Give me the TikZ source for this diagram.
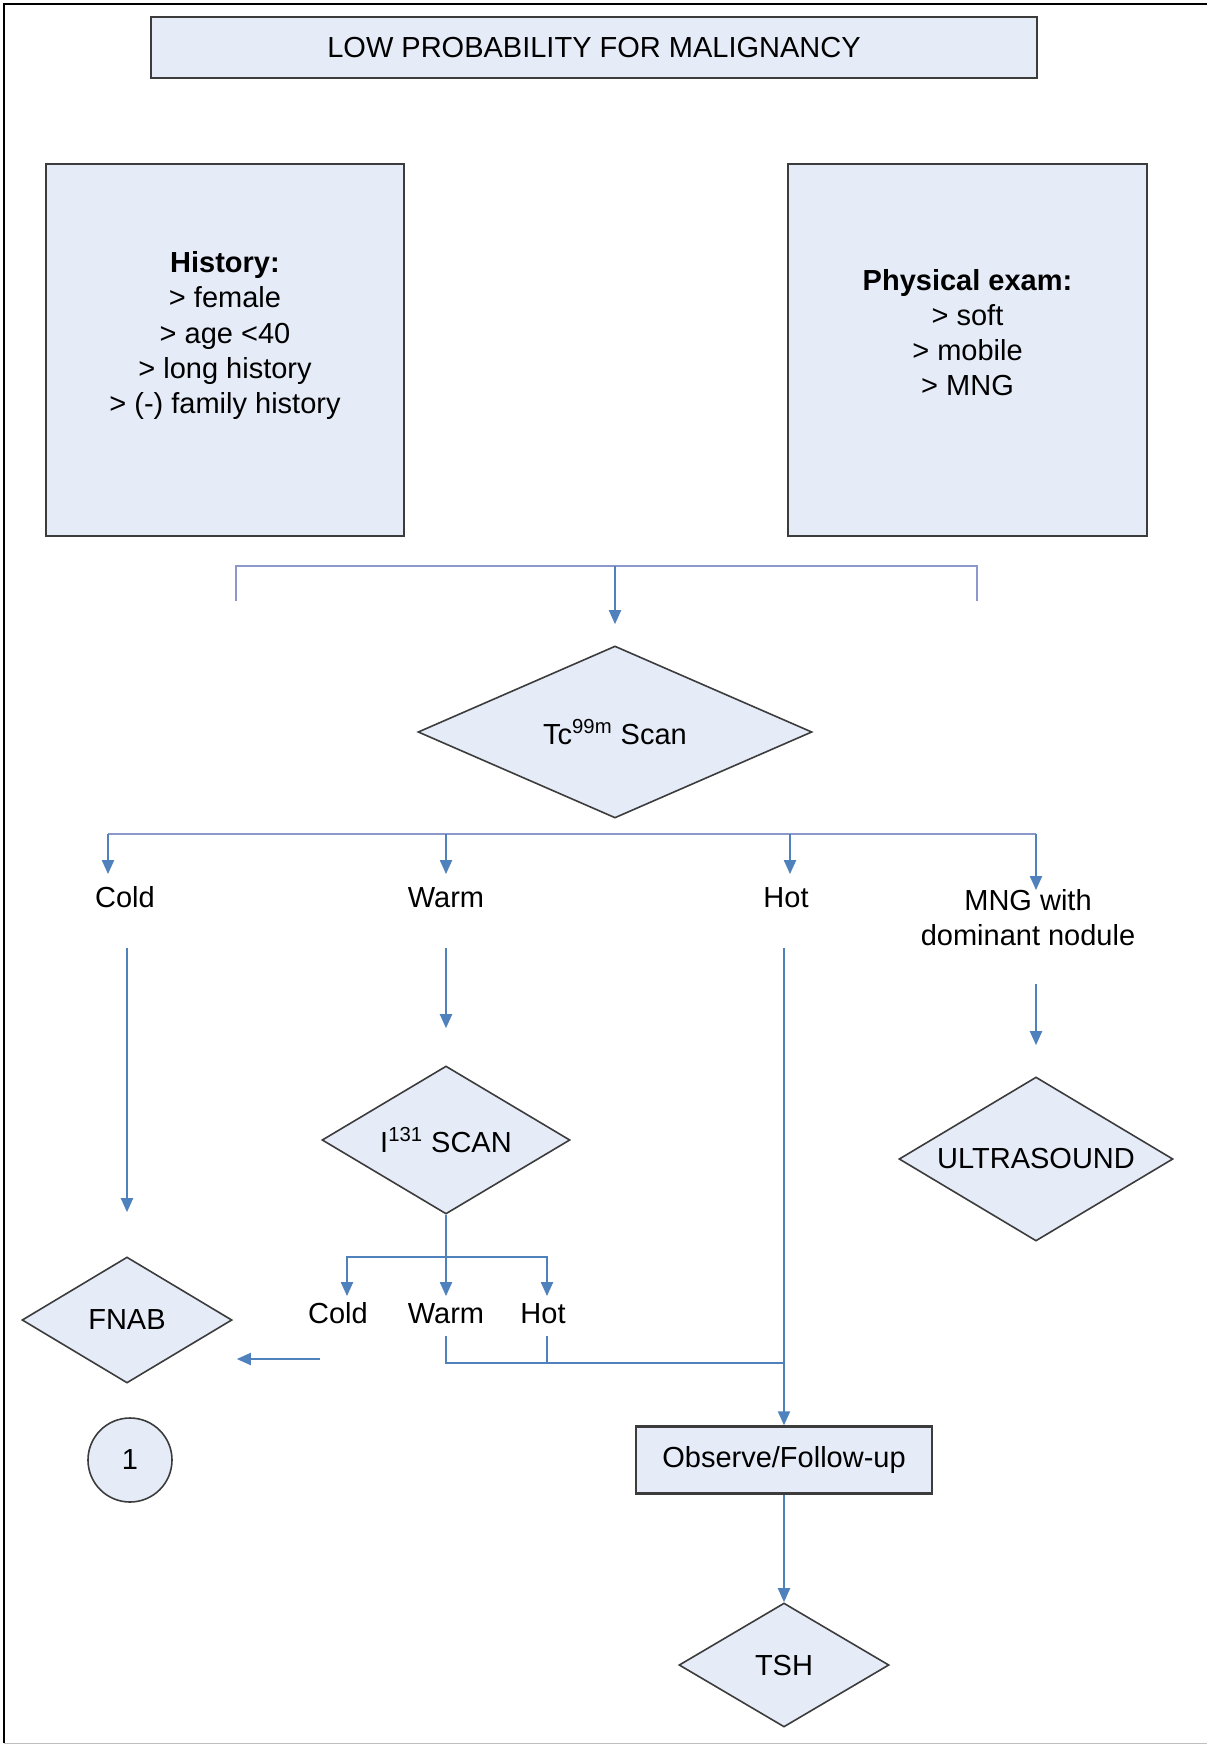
\documentclass[tikz,border=0pt]{standalone}
\usepackage{fontspec}
\setmainfont{Liberation Sans}
\usetikzlibrary{arrows.meta,shapes.geometric}
\definecolor{boxfill}{RGB}{229,235,247}
\definecolor{boxline}{RGB}{60,60,60}
\definecolor{linkblue}{RGB}{79,129,189}
\definecolor{brkblue}{RGB}{140,152,204}
\newcommand{\liftup}[1]{\raisebox{7pt}[\height][\depth]{\begin{tabular}{@{}c@{}}#1\end{tabular}}}

\begin{document}
\begin{tikzpicture}[x=0.5pt,y=-0.5pt,font=\fontsize{14.5}{17.6}\selectfont,
 box/.style={draw=boxline,line width=1.2pt,fill=boxfill,align=center},
 dec/.style={diamond,draw=boxline,line width=0.8pt,fill=boxfill,inner sep=0pt,aspect=1.67},
 lbl/.style={inner xsep=2pt,inner ysep=6pt,text height=10.5pt,text depth=3pt,align=center},
 ilbl/.style={lbl,inner ysep=1pt},
 link/.style={draw=linkblue,line width=1pt},
 brk/.style={draw=brkblue,line width=1pt},
 ->/.style={-{Triangle[width=6pt,length=7pt]}}]
\useasboundingbox (0,0) rectangle (1207,1744);
\draw[line width=1.2pt] (1207,4) -- (4,4) -- (4,1743);
\draw[gray!50] (4,1743) -- (1207,1743);
% top row
\node[box,minimum width=443pt,minimum height=30.5pt] (title) at (594,47.5) {LOW PROBABILITY FOR MALIGNANCY};
\node[box,minimum width=179pt,minimum height=186pt] (history) at (225,350) {\liftup{\textbf{History:}\\> female\\> age <40\\> long history\\> (-) family history}};
\node[box,minimum width=179.5pt,minimum height=186pt] (exam) at (967.5,350) {\liftup{\textbf{Physical exam:}\\> soft\\> mobile\\> MNG}};
\coordinate (brl) at (236,601);
\coordinate (brm) at (615,566);
\coordinate (brr) at (977,601);
\draw[brk] (brl) |- (brm) -| (brr);
% first scan
\node[dec,aspect=2.29,minimum width=197pt,minimum height=86pt] (tcscan) at (615,732) {Tc\textsuperscript{99m} Scan};
\draw[link,->,shorten >=10.5pt] (brm) -- (tcscan);
\node[lbl] (cold) at (125,900) {Cold};
\node[lbl] (warm) at (446,900) {Warm};
\node[lbl] (hot) at (786,900) {Hot};
\node[lbl,inner ysep=17pt] (mng) at (1028,938) {MNG with\\dominant nodule};
\coordinate (b1) at (108,834);
\coordinate (b2) at (446,834);
\coordinate (b3) at (790,834);
\coordinate (b4) at (1036,834);
\draw[brk] (b1) -- (b4);
\foreach \b/\n in {b1/cold,b2/warm,b3/hot,b4/mng}{\draw[link,->] (\b) -- (\b |- \n.north);}
% second row
\node[dec,aspect=1.68,minimum width=124pt,minimum height=74pt] (iscan) at (446,1140) {I\textsuperscript{131} SCAN};
\node[dec,minimum width=137pt,minimum height=82pt] (usound) at (1036,1159) {ULTRASOUND};
\node[dec,minimum width=105pt,minimum height=63pt] (fnab) at (127,1320) {FNAB};
\node[circle,draw=boxline,line width=0.8pt,fill=boxfill,minimum size=42pt] (one) at (130,1460) {1};
\node[box,minimum width=148pt,minimum height=33.5pt] (observe) at (784,1460) {Observe/Follow-up};
\node[dec,aspect=1.69,minimum width=105pt,minimum height=62pt] (tsh) at (784,1665) {TSH};
\draw[link,->,shorten <=11pt,shorten >=22pt] (fnab |- cold.south) -- (fnab);
\draw[link,->,shorten <=11pt,shorten >=18.5pt] (warm) -- (iscan);
\draw[link,->,shorten <=11pt] (observe |- hot.south) -- (observe);
\draw[link,->,shorten <=-1pt,shorten >=15.5pt] (usound |- mng.south) -- (usound);
\draw[link,->] (observe) -- (tsh);
% I131 branches
\node[ilbl] (icold) at (338,1316) {Cold};
\node[ilbl] (iwarm) at (446,1316) {Warm};
\node[ilbl] (ihot) at (543,1316) {Hot};
\coordinate (ib) at (446,1257);
\draw[link,->,shorten >=2pt] (iscan) -- (iwarm);
\draw[link,->,shorten >=2pt] (ib) -| ([xshift=4.5pt]icold.north);
\draw[link,->,shorten >=2pt] (ib) -| ([xshift=2pt]ihot.north);
\coordinate (fa) at (320,1359);
\draw[link,->,shorten >=2pt] (fa) -- (fa -| fnab.east);
\coordinate (jn) at (784,1363);
\draw[link] ([yshift=-2pt]iwarm.south) |- (jn);
\draw[link] ([xshift=2pt,yshift=-2pt]ihot.south) -- ([xshift=2pt]ihot.south |- jn);
\end{tikzpicture}
\end{document}
